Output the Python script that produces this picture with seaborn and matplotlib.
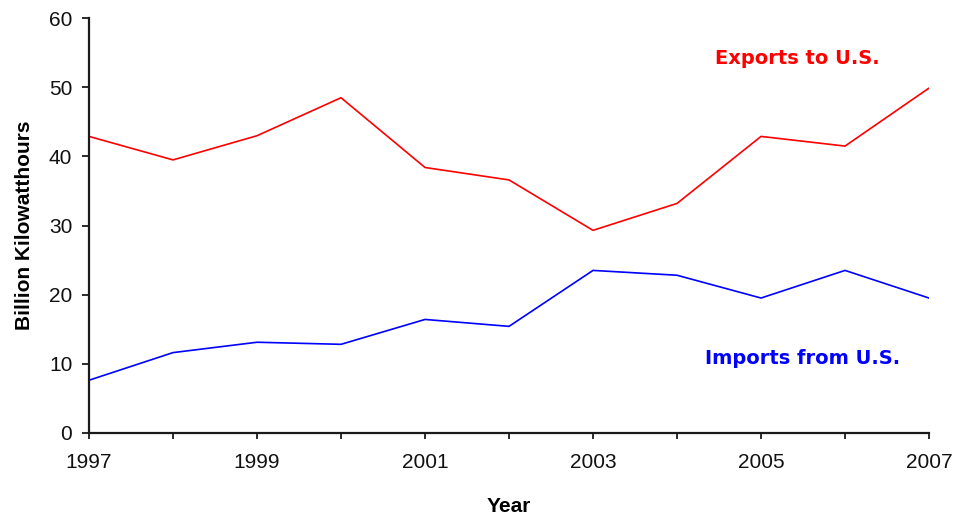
import matplotlib
matplotlib.use("Agg")
import matplotlib.pyplot as plt
import seaborn as sns
import pandas as pd

years = [1997, 1998, 1999, 2000, 2001, 2002, 2003, 2004, 2005, 2006, 2007]
exports_to_us = [42.9, 39.5, 43.0, 48.5, 38.4, 36.6, 29.3, 33.2, 42.9, 41.5, 49.9]
imports_from_us = [7.6, 11.6, 13.1, 12.8, 16.4, 15.4, 23.5, 22.8, 19.5, 23.5, 19.5]
series_names = ["Exports to U.S.", "Imports from U.S."]
series_colors = ["#FF0000", "#0000FF"]
tick_years = [1997, 1999, 2001, 2003, 2005, 2007]
y_ticks = [0, 10, 20, 30, 40, 50, 60]

df = pd.DataFrame({
    "Year": years * 2,
    "Value": exports_to_us + imports_from_us,
    "Series": [series_names[0]] * len(years) + [series_names[1]] * len(years),
})

sns.set_theme(style="white")
plt.rcParams["font.family"] = ["Liberation Sans", "DejaVu Sans"]

fig = plt.figure(figsize=(9.55, 5.17), dpi=100)
ax = fig.add_axes([0.0932, 0.163, 0.8796, 0.8016])

sns.lineplot(data=df, x="Year", y="Value", hue="Series",
             palette=dict(zip(series_names, series_colors)),
             linewidth=1.2, legend=False, ax=ax)

ax.set_xlim(1997, 2007)
ax.set_ylim(0, 60)
ax.set_xticks(years, minor=True)
ax.set_xticks(tick_years)
ax.set_xticklabels([str(y) for y in tick_years])
ax.set_yticks(y_ticks)

for side in ["top", "right"]:
    ax.spines[side].set_visible(False)
for side in ["left", "bottom"]:
    ax.spines[side].set_color("#1a1a1a")
    ax.spines[side].set_linewidth(1.6)

ax.tick_params(axis="x", which="both", direction="out", length=4.5, width=1.3,
               color="#1a1a1a", bottom=True)
ax.tick_params(axis="x", which="major", labelsize=15, pad=10, labelcolor="#111111")
ax.tick_params(axis="y", direction="out", length=5, width=1.3, color="#1a1a1a",
               left=True, labelsize=15, pad=7, labelcolor="#111111")

ax.set_xlabel("Year", fontsize=15, fontweight="bold", labelpad=18, color="black")
ax.set_ylabel("Billion Kilowatthours", fontsize=15, fontweight="bold", labelpad=11,
              color="black")

ax.text(2005.43, 54.2, series_names[0], color=series_colors[0], fontsize=14,
        fontweight="bold", family="DejaVu Sans", ha="center", va="center")
ax.text(2005.5, 10.7, series_names[1], color=series_colors[1], fontsize=14,
        fontweight="bold", family="DejaVu Sans", ha="center", va="center")

fig.savefig("out.png", dpi=100)
